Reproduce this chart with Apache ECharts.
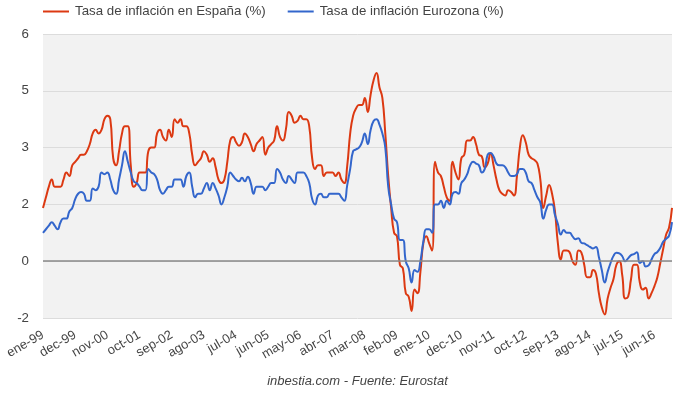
<!DOCTYPE html>
<html>
<head>
<meta charset="utf-8">
<script src="https://cdn.jsdelivr.net/npm/echarts@6/dist/echarts.min.js"></script>
<style>
html,body{margin:0;padding:0;background:#fff;}
#chart{width:680px;height:393px;}
</style>
</head>
<body>
<div id="chart"></div>
<script>
// Month abbreviations and years used to build the category labels (as printed on the axis)
const months = ['ene','feb','mar','abr','may','jun','jul','ago','sep','oct','nov','dec'];
const years = ['99','00','01','02','03','04','05','06','07','08','09','10','11','12','13','14','15','16'];

const seriesNames = ['Tasa de inflación en España (%)', 'Tasa de inflación Eurozona (%)'];

// Spain HICP annual rate, monthly Jan-1999 .. Dec-2016
const spain = [
  1.5, 1.8, 2.1, 2.3, 2.1, 2.1, 2.1, 2.3, 2.5, 2.4, 2.7, 2.8,
  2.9, 3.0, 3.0, 3.1, 3.3, 3.6, 3.7, 3.6, 3.7, 4.0, 4.1, 4.0,
  2.9, 2.7, 3.1, 3.6, 3.8, 3.8, 2.7, 2.1, 2.2, 2.5, 2.5, 2.5,
  3.1, 3.2, 3.2, 3.6, 3.7, 3.5, 3.4, 3.7, 3.5, 4.0, 3.9, 4.0,
  3.8, 3.8, 3.6, 3.0, 2.7, 2.8, 2.9, 3.1, 3.0, 2.8, 2.9, 2.65,
  2.3, 2.2, 2.3, 2.8, 3.4, 3.5, 3.35, 3.25, 3.35, 3.6, 3.5, 3.3,
  3.1, 3.3, 3.4, 3.5, 3.0, 3.2, 3.3, 3.4, 3.8, 3.5, 3.4, 3.7,
  4.2, 4.1, 3.9, 3.95, 4.1, 4.0, 4.0, 3.8, 2.9, 2.6, 2.7, 2.7,
  2.4, 2.5, 2.5, 2.5, 2.4, 2.5, 2.3, 2.2, 2.7, 3.6, 4.1, 4.3,
  4.4, 4.4, 4.6, 4.2, 4.7, 5.1, 5.3, 4.9, 4.6, 3.6, 2.4, 1.5,
  0.8, 0.7, -0.1, -0.2, -0.9, -1.0, -1.4, -0.8, -0.9, -0.3, 0.5, 0.7,
  0.5, 0.3, 2.8, 2.5, 2.4, 2.1, 1.8, 1.7, 2.8, 2.5, 2.3, 2.9,
  3.0, 3.4, 3.4, 3.5, 3.3, 3.0, 2.95, 2.65, 2.75, 3.05, 2.7, 2.3,
  2.0, 1.9, 1.85, 2.0, 1.95, 1.85, 2.4, 3.2, 3.55, 3.35, 3.0, 2.9,
  2.85, 2.75, 2.3, 1.5, 1.85, 2.15, 1.9, 1.4, 0.5, 0.05, 0.3, 0.3,
  0.25, 0.0, -0.1, 0.3, 0.25, -0.1, -0.45, -0.45, -0.25, -0.35, -0.9, -1.3,
  -1.5, -1.05, -0.75, -0.5, -0.1, 0.0, -0.4, -1.05, -1.0, -0.5, -0.1, -0.1,
  -0.6, -0.8, -0.75, -1.05, -0.9, -0.7, -0.45, -0.05, 0.35, 0.75, 0.95, 1.5
];

// Euro area HICP annual rate, monthly Jan-1999 .. Dec-2016
const eurozone = [
  0.8, 0.9, 1.0, 1.1, 1.0, 0.9, 1.1, 1.2, 1.2, 1.4, 1.5, 1.75,
  1.9, 1.95, 1.9, 1.7, 1.7, 2.05, 2.0, 2.1, 2.5, 2.45, 2.5, 2.3,
  2.0, 1.9, 2.3, 2.7, 3.1, 2.8, 2.5, 2.25, 2.2, 2.1, 2.0, 2.0,
  2.6, 2.5, 2.45, 2.3, 2.0, 1.9, 2.0, 2.1, 2.1, 2.3, 2.3, 2.3,
  2.1, 2.4, 2.5, 2.1, 1.8, 1.9, 1.9, 2.05, 2.2, 2.0, 2.2, 2.05,
  1.85, 1.6, 1.8, 2.1, 2.5, 2.4, 2.3, 2.25, 2.35, 2.25, 2.38, 2.2,
  1.9, 2.1, 2.1, 2.1, 2.0, 2.1, 2.2, 2.2, 2.6, 2.5, 2.3, 2.2,
  2.4, 2.3, 2.2, 2.5, 2.5, 2.5, 2.4, 2.2, 1.75, 1.6, 1.85, 1.9,
  1.8, 1.8, 1.9, 1.9, 1.9, 1.9, 1.8, 1.7, 2.15, 2.6, 3.1, 3.15,
  3.2, 3.35, 3.6, 3.3, 3.7, 3.95, 4.0, 3.85, 3.6, 3.2, 2.1, 1.6,
  1.2, 1.1, 0.6, 0.6, 0.0, -0.2, -0.6, -0.25, -0.3, 0.0, 0.55, 0.9,
  0.9, 0.8, 1.6, 1.6, 1.7, 1.5, 1.7, 1.6, 1.9, 1.95, 1.9, 2.2,
  2.3, 2.45, 2.7, 2.8, 2.75, 2.7, 2.5, 2.6, 3.0, 3.05, 2.95, 2.75,
  2.7, 2.7, 2.65, 2.5, 2.4, 2.4, 2.45, 2.6, 2.6, 2.5, 2.25, 2.2,
  2.0, 1.8, 1.65, 1.2, 1.45, 1.6, 1.6, 1.3, 1.05, 0.75, 0.88, 0.8,
  0.8, 0.7, 0.62, 0.65, 0.52, 0.5, 0.45, 0.4, 0.36, 0.4, 0.12, -0.25,
  -0.6, -0.3, -0.05, 0.15, 0.24, 0.22, 0.14, 0.0, 0.08, 0.17, 0.2, 0.25,
  -0.05, 0.0, -0.15, -0.12, 0.05, 0.2, 0.26, 0.38, 0.55, 0.63, 0.72, 1.1
];

// Y axis: gridlines every 1.6 from -1.6 to 6.4, labels shown rounded
const yMin = -1.6, yMax = 6.4, yStep = 1.6;
const caption = 'inbestia.com - Fuente: Eurostat';

const categories = [];
years.forEach(y => months.forEach(m => categories.push(m + '-' + y)));

const FONT = '"Liberation Sans", Arial, sans-serif';
const chart = echarts.init(document.getElementById('chart'), null, {renderer: 'canvas'});
chart.setOption({
  animation: false,
  color: ['#dc3912', '#3366cc'],
  textStyle: {fontFamily: FONT},
  legend: {
    left: 43, top: 5, padding: 0,
    icon: 'rect',
    itemWidth: 26, itemHeight: 2, itemGap: 22,
    textStyle: {fontSize: 13.3, color: '#444', fontFamily: FONT, padding: [0, 0, 0, 1]},
    data: seriesNames
  },
  grid: {
    left: 43, right: 8, top: 34, bottom: 75,
    show: true, backgroundColor: '#f2f2f2', borderWidth: 0
  },
  xAxis: {
    type: 'category',
    data: categories,
    boundaryGap: false,
    axisLine: {show: false, onZero: false},
    axisTick: {show: false},
    splitLine: {show: false},
    axisLabel: {
      interval: 10, rotate: 30, margin: 16,
      fontSize: 13, color: '#444', fontFamily: FONT
    }
  },
  yAxis: {
    type: 'value',
    min: yMin, max: yMax, interval: yStep,
    axisLine: {show: false},
    axisTick: {show: false},
    splitLine: {lineStyle: {color: '#dcdcdc', width: 1}},
    axisLabel: {
      margin: 14, fontSize: 13.3, color: '#444', fontFamily: FONT,
      formatter: v => String(Math.round(v))
    }
  },
  graphic: [{
    type: 'text', x: 357.5, y: 381,
    style: {
      text: caption, textAlign: 'center', textVerticalAlign: 'middle',
      font: 'italic 13px ' + FONT, fill: '#444'
    }
  }],
  series: [
    {
      name: seriesNames[0], type: 'line', data: spain,
      symbol: 'none', smooth: 0.5,
      lineStyle: {width: 2},
      markLine: {
        silent: true, symbol: 'none', label: {show: false},
        lineStyle: {color: '#888', width: 1.5, type: 'solid'},
        data: [{yAxis: 0}]
      },
      z: 2
    },
    {
      name: seriesNames[1], type: 'line', data: eurozone,
      symbol: 'none', smooth: 0.5,
      lineStyle: {width: 2},
      z: 3
    }
  ]
});
</script>
</body>
</html>
